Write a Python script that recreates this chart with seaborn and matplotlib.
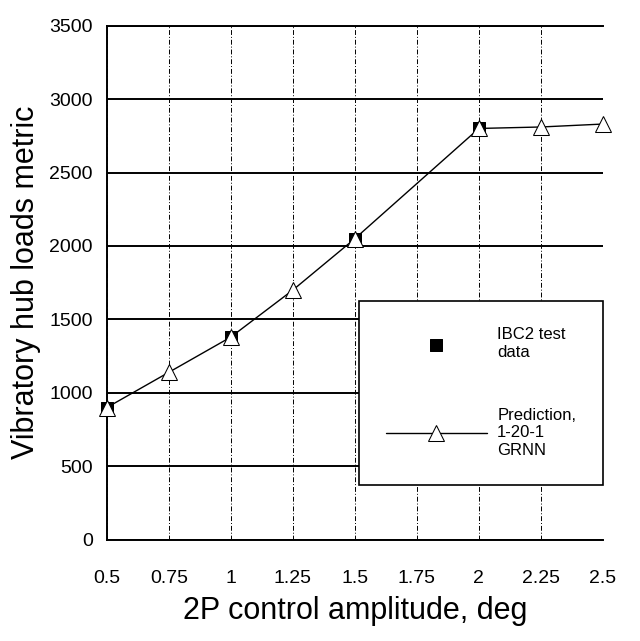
import matplotlib
matplotlib.use("Agg")
import matplotlib.pyplot as plt
import seaborn as sns
import pandas as pd

# data
test_x = [0.5, 1.0, 1.5, 2.0]
test_y = [900, 1380, 2050, 2800]
pred_x = [0.5, 0.75, 1.0, 1.25, 1.5, 2.0, 2.25, 2.5]
pred_y = [900, 1140, 1380, 1700, 2050, 2800, 2810, 2830]
xticks = [0.5, 0.75, 1, 1.25, 1.5, 1.75, 2, 2.25, 2.5]
xticklabels = ["0.5", "0.75", "1", "1.25", "1.5", "1.75", "2", "2.25", "2.5"]
yticks = [0, 500, 1000, 1500, 2000, 2500, 3000, 3500]

sns.set_style("white")
plt.rcParams["font.family"] = ["Liberation Sans", "DejaVu Sans"]
plt.rcParams["text.color"] = "black"
plt.rcParams["axes.labelcolor"] = "black"
plt.rcParams["xtick.color"] = "black"
plt.rcParams["ytick.color"] = "black"

fig = plt.figure(figsize=(6.4, 6.41), dpi=100)
ax = fig.add_axes([0.167, 0.158, 0.775, 0.802])

test_df = pd.DataFrame({"x": test_x, "y": test_y})
pred_df = pd.DataFrame({"x": pred_x, "y": pred_y})

sns.scatterplot(data=test_df, x="x", y="y", marker="s", s=80, color="black",
                edgecolor="black", ax=ax, zorder=3, clip_on=False,
                label="IBC2 test\ndata")
sns.lineplot(data=pred_df, x="x", y="y", marker="^", markersize=12,
             markerfacecolor="white", markeredgecolor="black", color="black",
             linewidth=1.0, ax=ax, zorder=4, clip_on=False,
             label="Prediction,\n1-20-1\nGRNN")

ax.set_xlim(0.5, 2.5)
ax.set_ylim(0, 3500)
ax.set_xticks(xticks)
ax.set_xticklabels(xticklabels)
ax.set_yticks(yticks)
ax.tick_params(axis="x", length=0, pad=22, labelsize=14, labelcolor="black")
ax.tick_params(axis="y", length=0, pad=10, labelsize=14, labelcolor="black")

# grid: solid horizontals, dashed verticals
for yv in yticks:
    ax.axhline(yv, color="black", linewidth=1.4, zorder=1)
for xv in xticks:
    ax.axvline(xv, color="black", linewidth=0.7, linestyle=(0, (5, 2, 1, 2)), zorder=1)

for side in ["left", "bottom", "top"]:
    ax.spines[side].set_visible(True)
    ax.spines[side].set_color("black")
    ax.spines[side].set_linewidth(1.4)
ax.spines["right"].set_visible(False)

ax.set_xlabel("2P control amplitude, deg", fontsize=22, labelpad=6, color="black")
ax.set_ylabel("Vibratory hub loads metric", fontsize=22, labelpad=6, color="black")

leg = ax.legend(loc="upper right", bbox_to_anchor=(1.0, 0.465), fontsize=12,
                frameon=True, fancybox=False, edgecolor="black", framealpha=1,
                handlelength=6.1, handletextpad=0.6, labelspacing=2.9,
                borderpad=1.6, borderaxespad=0)
leg.get_frame().set_linewidth(1.2)
leg.set_zorder(5)
for t in leg.get_texts():
    t.set_color("black")

fig.savefig("out.png", dpi=100)
